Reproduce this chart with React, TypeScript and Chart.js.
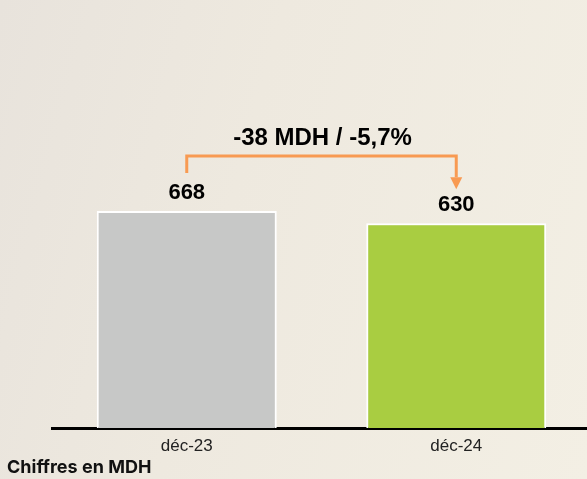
import React, { useEffect, useRef } from "react";
import { Chart, registerables } from "chart.js";

Chart.register(...registerables);

const categories = ["déc-23", "déc-24"];
const values = [668, 630];
const barColors = ["#c7c8c7", "#a9cd41"];
const variationLabel = "-38 MDH / -5,7%";
const unitNote = "Chiffres en MDH";

const overlayPlugin = {
  id: "overlay",
  afterDatasetsDraw(chart: any) {
    const ctx = chart.ctx;
    const meta = chart.getDatasetMeta(0);
    const b0 = meta.data[0];
    const b1 = meta.data[1];
    ctx.save();
    // value labels
    ctx.fillStyle = "#000";
    ctx.font = "bold 22px 'Liberation Sans', Arial, sans-serif";
    ctx.textAlign = "center";
    ctx.textBaseline = "middle";
    meta.data.forEach((bar: any, i: number) => {
      ctx.fillText(String(values[i]), bar.x, bar.y - 18);
    });
    // bracket
    const yTop = b0.y - 55;
    ctx.strokeStyle = "#f89a52";
    ctx.lineWidth = 3;
    ctx.beginPath();
    ctx.moveTo(b0.x, b0.y - 38);
    ctx.lineTo(b0.x, yTop);
    ctx.lineTo(b1.x, yTop);
    ctx.lineTo(b1.x, b1.y - 46);
    ctx.stroke();
    ctx.fillStyle = "#f89a52";
    ctx.beginPath();
    ctx.moveTo(b1.x - 6, b1.y - 46);
    ctx.lineTo(b1.x + 6, b1.y - 46);
    ctx.lineTo(b1.x, b1.y - 34);
    ctx.closePath();
    ctx.fill();
    // variation text
    ctx.fillStyle = "#000";
    ctx.font = "bold 24px 'Liberation Sans', Arial, sans-serif";
    ctx.textBaseline = "middle";
    ctx.fillText(variationLabel, (b0.x + b1.x) / 2 + 1, yTop - 18);
    // unit note
    ctx.textAlign = "left";
    ctx.font = "bold 18px Inter, 'Noto Sans', sans-serif";
    ctx.fillStyle = "#111";
    ctx.fillText(unitNote, 7, 468);
    ctx.restore();
  },
};

export default function App() {
  const ref = useRef<HTMLCanvasElement>(null);
  useEffect(() => {
    if (!ref.current) return;
    const chart = new Chart(ref.current, {
      type: "bar",
      data: {
        labels: categories,
        datasets: [
          {
            data: values,
            backgroundColor: barColors,
            borderColor: "#ffffff",
            borderWidth: 2,
            borderSkipped: "bottom",
            barPercentage: 0.668,
            categoryPercentage: 1,
          },
        ],
      },
      options: {
        responsive: false,
        animation: false,
        layout: { padding: { left: 52, right: 0, top: 103, bottom: 0 } },
        plugins: { legend: { display: false }, tooltip: { enabled: false } },
        scales: {
          x: {
            grid: { display: false, drawTicks: false },
            border: { display: true, color: "#000", width: 3 },
            ticks: {
              color: "#222",
              padding: 8,
              font: { family: "'Liberation Sans', Arial, sans-serif", size: 17 },
            },
            afterFit(scale: any) {
              scale.height = 51;
            },
          },
          y: { display: false, min: 0, max: 1000 },
        },
      },
      plugins: [overlayPlugin],
    });
    return () => chart.destroy();
  }, []);
  return (
    <div
      style={{
        position: "absolute",
        left: 0,
        top: 0,
        width: 587,
        height: 479,
        overflow: "hidden",
        background: "linear-gradient(105deg, #e8e3dc 0%, #eee9df 40%, #f3efe4 100%)",
      }}
    >
      <canvas ref={ref} width={591} height={479} style={{ display: "block" }} />
    </div>
  );
}
